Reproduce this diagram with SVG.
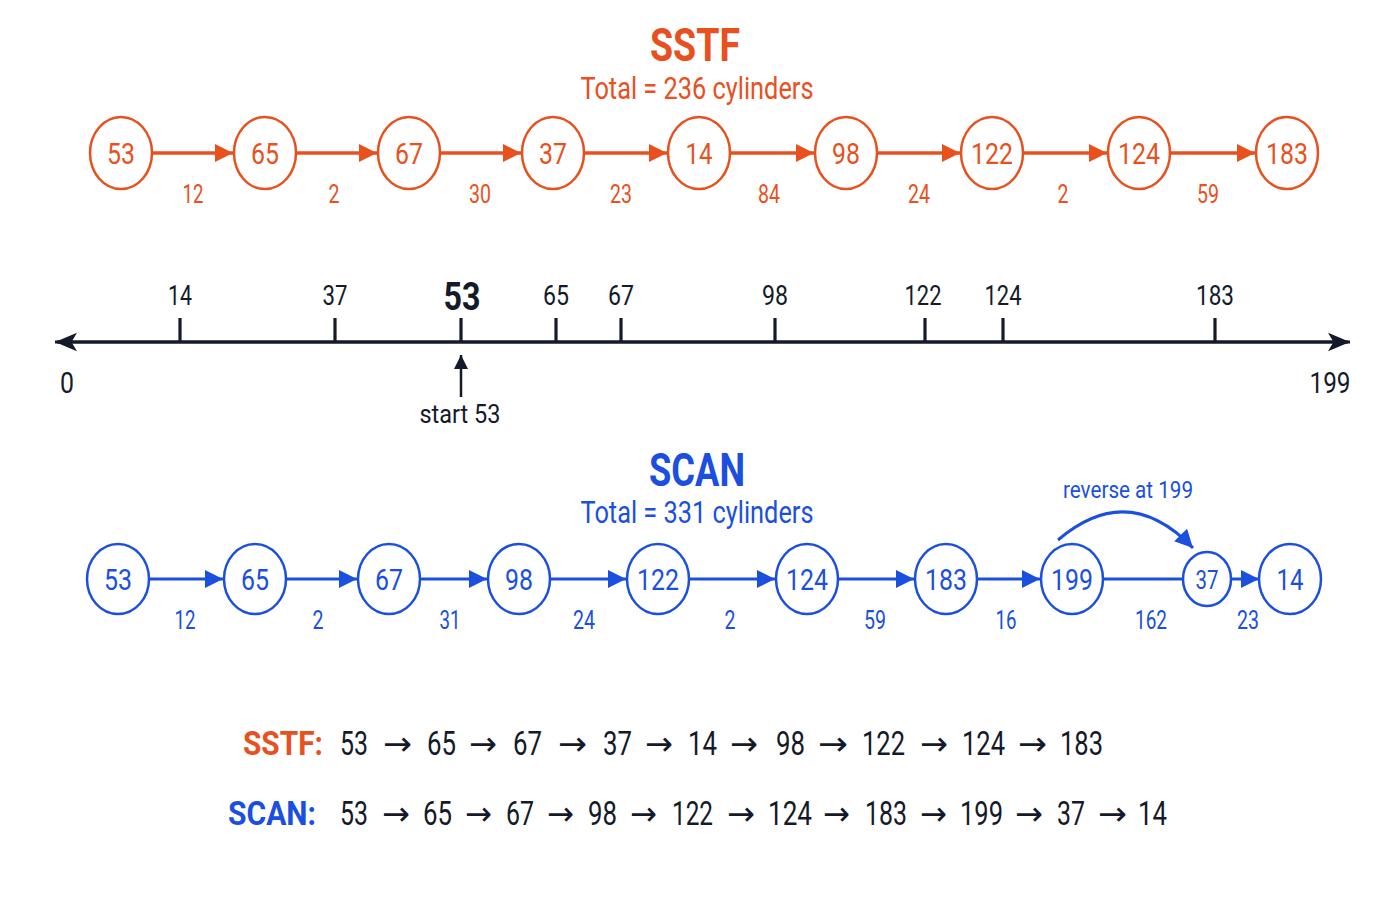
<svg xmlns="http://www.w3.org/2000/svg" width="1400" height="900" viewBox="0 0 1400 900">
<defs>
<style>
text{font-family:"Roboto","Liberation Sans",sans-serif;text-anchor:middle}
.o{fill:#E8501E}.b{fill:#1A4FE0}.k{fill:#141A2A}
.on{fill:#fff;stroke:#E8501E;stroke-width:2.5}
.bn{fill:#fff;stroke:#1A4FE0;stroke-width:2.5}
.nt{font-size:30px}
.el{font-size:25px}
.ol{stroke:#E8501E;stroke-width:3.5;fill:none}
.bl{stroke:#1A4FE0;stroke-width:3;fill:none}
.ax{stroke:#141A2A;stroke-width:3.2;fill:none}
.tk{font-size:28px}
.title{font-size:46px;font-weight:bold}
.sub{font-size:31px}
.sum{font-size:34px}
.sn{font-size:33px;fill:#141A2A;text-anchor:start}
.sa{font-family:"DejaVu Sans",sans-serif;font-size:33px;fill:#141A2A;text-anchor:start}
</style>
<marker id="ao2" viewBox="0 0 10 10" refX="10" refY="5" markerWidth="18" markerHeight="19" markerUnits="userSpaceOnUse" orient="auto"><path d="M0,0 L10,5 L0,10 z" fill="#E8501E"/></marker>
<marker id="ab2" viewBox="0 0 10 10" refX="10" refY="5" markerWidth="18" markerHeight="19" markerUnits="userSpaceOnUse" orient="auto"><path d="M0,0 L10,5 L0,10 z" fill="#1A4FE0"/></marker>
<marker id="ak" viewBox="0 0 12 10" refX="12" refY="5" markerWidth="22" markerHeight="22" markerUnits="userSpaceOnUse" orient="auto"><path d="M0,0 L12,5 L0,10 L3,5 z" fill="#141A2A"/></marker>
<marker id="ak2" viewBox="0 0 10 10" refX="10" refY="5" markerWidth="14" markerHeight="14" markerUnits="userSpaceOnUse" orient="auto"><path d="M0,0 L10,5 L0,10 z" fill="#141A2A"/></marker>
</defs>
<rect width="1400" height="900" fill="#fff"/>

<g id="sstf-title">
<text x="695" y="61" class="title o" textLength="90" lengthAdjust="spacingAndGlyphs">SSTF</text>
<text x="697" y="99" class="sub o" textLength="233" lengthAdjust="spacingAndGlyphs">Total = 236 cylinders</text>
</g>

<g id="connectors">
<g id="sstf-edges">
<line x1="152" y1="153" x2="233" y2="153" class="ol" marker-end="url(#ao2)"/>
<line x1="296" y1="153" x2="377" y2="153" class="ol" marker-end="url(#ao2)"/>
<line x1="440" y1="153" x2="521" y2="153" class="ol" marker-end="url(#ao2)"/>
<line x1="584" y1="153" x2="667" y2="153" class="ol" marker-end="url(#ao2)"/>
<line x1="730" y1="153" x2="814" y2="153" class="ol" marker-end="url(#ao2)"/>
<line x1="877" y1="153" x2="960" y2="153" class="ol" marker-end="url(#ao2)"/>
<line x1="1023" y1="153" x2="1107" y2="153" class="ol" marker-end="url(#ao2)"/>
<line x1="1170" y1="153" x2="1255" y2="153" class="ol" marker-end="url(#ao2)"/>
</g>
<g id="scan-edges">
<line x1="149" y1="579" x2="223" y2="579" class="bl" marker-end="url(#ab2)"/>
<line x1="286" y1="579" x2="357" y2="579" class="bl" marker-end="url(#ab2)"/>
<line x1="420" y1="579" x2="487" y2="579" class="bl" marker-end="url(#ab2)"/>
<line x1="550" y1="579" x2="626" y2="579" class="bl" marker-end="url(#ab2)"/>
<line x1="689" y1="579" x2="775" y2="579" class="bl" marker-end="url(#ab2)"/>
<line x1="838" y1="579" x2="914" y2="579" class="bl" marker-end="url(#ab2)"/>
<line x1="977" y1="579" x2="1040" y2="579" class="bl" marker-end="url(#ab2)"/>
<line x1="1103" y1="579" x2="1183" y2="579" class="bl"/>
<line x1="1231" y1="579" x2="1259" y2="579" class="bl" marker-end="url(#ab2)"/>
<path d="M1058,540 Q1128,480 1193,548" class="bl" marker-end="url(#ab2)"/>
</g>
</g>

<g id="sstf-labels">
<text x="193" y="203" class="el o" textLength="21" lengthAdjust="spacingAndGlyphs">12</text>
<text x="334" y="203" class="el o" textLength="11" lengthAdjust="spacingAndGlyphs">2</text>
<text x="480" y="203" class="el o" textLength="22" lengthAdjust="spacingAndGlyphs">30</text>
<text x="621" y="203" class="el o" textLength="22" lengthAdjust="spacingAndGlyphs">23</text>
<text x="769" y="203" class="el o" textLength="22" lengthAdjust="spacingAndGlyphs">84</text>
<text x="919" y="203" class="el o" textLength="22" lengthAdjust="spacingAndGlyphs">24</text>
<text x="1063" y="203" class="el o" textLength="11" lengthAdjust="spacingAndGlyphs">2</text>
<text x="1208" y="203" class="el o" textLength="22" lengthAdjust="spacingAndGlyphs">59</text>
</g>

<g id="sstf-n53"><ellipse cx="121" cy="153" rx="31" ry="36" class="on"/><text x="121" y="164" class="nt o" textLength="28" lengthAdjust="spacingAndGlyphs">53</text></g>
<g id="sstf-n65"><ellipse cx="265" cy="153" rx="31" ry="36" class="on"/><text x="265" y="164" class="nt o" textLength="28" lengthAdjust="spacingAndGlyphs">65</text></g>
<g id="sstf-n67"><ellipse cx="409" cy="153" rx="31" ry="36" class="on"/><text x="409" y="164" class="nt o" textLength="28" lengthAdjust="spacingAndGlyphs">67</text></g>
<g id="sstf-n37"><ellipse cx="553" cy="153" rx="31" ry="36" class="on"/><text x="553" y="164" class="nt o" textLength="28" lengthAdjust="spacingAndGlyphs">37</text></g>
<g id="sstf-n14"><ellipse cx="699" cy="153" rx="31" ry="36" class="on"/><text x="699" y="164" class="nt o" textLength="27" lengthAdjust="spacingAndGlyphs">14</text></g>
<g id="sstf-n98"><ellipse cx="846" cy="153" rx="31" ry="36" class="on"/><text x="846" y="164" class="nt o" textLength="28" lengthAdjust="spacingAndGlyphs">98</text></g>
<g id="sstf-n122"><ellipse cx="992" cy="153" rx="31" ry="36" class="on"/><text x="992" y="164" class="nt o" textLength="42" lengthAdjust="spacingAndGlyphs">122</text></g>
<g id="sstf-n124"><ellipse cx="1139" cy="153" rx="31" ry="36" class="on"/><text x="1139" y="164" class="nt o" textLength="42" lengthAdjust="spacingAndGlyphs">124</text></g>
<g id="sstf-n183"><ellipse cx="1287" cy="153" rx="31" ry="36" class="on"/><text x="1287" y="164" class="nt o" textLength="42" lengthAdjust="spacingAndGlyphs">183</text></g>

<g id="axis">
<line x1="1348" y1="342" x2="55" y2="342" class="ax" marker-end="url(#ak)"/>
<line x1="57" y1="342" x2="1350" y2="342" class="ax" marker-end="url(#ak)"/>
<g class="ax">
<line x1="180" y1="318" x2="180" y2="342"/>
<line x1="335" y1="318" x2="335" y2="342"/>
<line x1="461" y1="318" x2="461" y2="342"/>
<line x1="556" y1="318" x2="556" y2="342"/>
<line x1="621" y1="318" x2="621" y2="342"/>
<line x1="775" y1="318" x2="775" y2="342"/>
<line x1="925" y1="318" x2="925" y2="342"/>
<line x1="1003" y1="318" x2="1003" y2="342"/>
<line x1="1215" y1="318" x2="1215" y2="342"/>
</g>
<text x="180" y="305" class="tk k" textLength="24" lengthAdjust="spacingAndGlyphs">14</text>
<text x="335" y="305" class="tk k" textLength="25" lengthAdjust="spacingAndGlyphs">37</text>
<text x="462" y="310" class="k" style="font-size:38px;font-weight:bold" textLength="37" lengthAdjust="spacingAndGlyphs">53</text>
<text x="556" y="305" class="tk k" textLength="26" lengthAdjust="spacingAndGlyphs">65</text>
<text x="621" y="305" class="tk k" textLength="26" lengthAdjust="spacingAndGlyphs">67</text>
<text x="775" y="305" class="tk k" textLength="26" lengthAdjust="spacingAndGlyphs">98</text>
<text x="923" y="305" class="tk k" textLength="37" lengthAdjust="spacingAndGlyphs">122</text>
<text x="1003" y="305" class="tk k" textLength="37" lengthAdjust="spacingAndGlyphs">124</text>
<text x="1215" y="305" class="tk k" textLength="38" lengthAdjust="spacingAndGlyphs">183</text>
<text x="67" y="393" class="k" style="font-size:30px" textLength="14" lengthAdjust="spacingAndGlyphs">0</text>
<text x="1330" y="393" class="k" style="font-size:30px" textLength="41" lengthAdjust="spacingAndGlyphs">199</text>
<line x1="461" y1="397" x2="461" y2="355" stroke="#141A2A" stroke-width="2.5" marker-end="url(#ak2)"/>
<text x="460" y="423" class="k" style="font-size:26px" textLength="81" lengthAdjust="spacingAndGlyphs">start 53</text>
</g>

<g id="scan-title">
<text x="697" y="486" class="title b" textLength="96" lengthAdjust="spacingAndGlyphs">SCAN</text>
<text x="697" y="523" class="sub b" textLength="233" lengthAdjust="spacingAndGlyphs">Total = 331 cylinders</text>
<text x="1128" y="498" class="b" style="font-size:23px" textLength="130" lengthAdjust="spacingAndGlyphs">reverse at 199</text>
</g>

<g id="scan-labels">
<text x="185" y="629" class="el b" textLength="21" lengthAdjust="spacingAndGlyphs">12</text>
<text x="318" y="629" class="el b" textLength="11" lengthAdjust="spacingAndGlyphs">2</text>
<text x="450" y="629" class="el b" textLength="21" lengthAdjust="spacingAndGlyphs">31</text>
<text x="584" y="629" class="el b" textLength="22" lengthAdjust="spacingAndGlyphs">24</text>
<text x="730" y="629" class="el b" textLength="11" lengthAdjust="spacingAndGlyphs">2</text>
<text x="875" y="629" class="el b" textLength="22" lengthAdjust="spacingAndGlyphs">59</text>
<text x="1006" y="629" class="el b" textLength="21" lengthAdjust="spacingAndGlyphs">16</text>
<text x="1151" y="629" class="el b" textLength="32" lengthAdjust="spacingAndGlyphs">162</text>
<text x="1248" y="629" class="el b" textLength="22" lengthAdjust="spacingAndGlyphs">23</text>
</g>

<g id="scan-n53"><ellipse cx="118" cy="579" rx="31" ry="35" class="bn"/><text x="118" y="590" class="nt b" textLength="28" lengthAdjust="spacingAndGlyphs">53</text></g>
<g id="scan-n65"><ellipse cx="255" cy="579" rx="31" ry="35" class="bn"/><text x="255" y="590" class="nt b" textLength="28" lengthAdjust="spacingAndGlyphs">65</text></g>
<g id="scan-n67"><ellipse cx="389" cy="579" rx="31" ry="35" class="bn"/><text x="389" y="590" class="nt b" textLength="28" lengthAdjust="spacingAndGlyphs">67</text></g>
<g id="scan-n98"><ellipse cx="519" cy="579" rx="31" ry="35" class="bn"/><text x="519" y="590" class="nt b" textLength="28" lengthAdjust="spacingAndGlyphs">98</text></g>
<g id="scan-n122"><ellipse cx="658" cy="579" rx="31" ry="35" class="bn"/><text x="658" y="590" class="nt b" textLength="42" lengthAdjust="spacingAndGlyphs">122</text></g>
<g id="scan-n124"><ellipse cx="807" cy="579" rx="31" ry="35" class="bn"/><text x="807" y="590" class="nt b" textLength="42" lengthAdjust="spacingAndGlyphs">124</text></g>
<g id="scan-n183"><ellipse cx="946" cy="579" rx="31" ry="35" class="bn"/><text x="946" y="590" class="nt b" textLength="42" lengthAdjust="spacingAndGlyphs">183</text></g>
<g id="scan-n199"><ellipse cx="1072" cy="579" rx="31" ry="35" class="bn"/><text x="1072" y="590" class="nt b" textLength="42" lengthAdjust="spacingAndGlyphs">199</text></g>
<g id="scan-n37"><ellipse cx="1207" cy="579" rx="24" ry="27" class="bn"/><text x="1207" y="589" class="b" style="font-size:26px" textLength="23" lengthAdjust="spacingAndGlyphs">37</text></g>
<g id="scan-n14"><ellipse cx="1290" cy="579" rx="31" ry="35" class="bn"/><text x="1290" y="590" class="nt b" textLength="27" lengthAdjust="spacingAndGlyphs">14</text></g>

<g id="summary">
<text x="243" y="755" class="sum o" style="text-anchor:start;font-weight:bold" textLength="80" lengthAdjust="spacingAndGlyphs">SSTF:</text>
<g id="sstf-seq">
<text x="340" y="755" class="sn" textLength="28" lengthAdjust="spacingAndGlyphs">53</text>
<text x="383" y="755" class="sa" textLength="29" lengthAdjust="spacingAndGlyphs">→</text>
<text x="427" y="755" class="sn" textLength="29" lengthAdjust="spacingAndGlyphs">65</text>
<text x="469" y="755" class="sa" textLength="28" lengthAdjust="spacingAndGlyphs">→</text>
<text x="513" y="755" class="sn" textLength="29" lengthAdjust="spacingAndGlyphs">67</text>
<text x="558" y="755" class="sa" textLength="29" lengthAdjust="spacingAndGlyphs">→</text>
<text x="603" y="755" class="sn" textLength="29" lengthAdjust="spacingAndGlyphs">37</text>
<text x="645" y="755" class="sa" textLength="28" lengthAdjust="spacingAndGlyphs">→</text>
<text x="688" y="755" class="sn" textLength="29" lengthAdjust="spacingAndGlyphs">14</text>
<text x="730" y="755" class="sa" textLength="28" lengthAdjust="spacingAndGlyphs">→</text>
<text x="776" y="755" class="sn" textLength="29" lengthAdjust="spacingAndGlyphs">98</text>
<text x="818" y="755" class="sa" textLength="30" lengthAdjust="spacingAndGlyphs">→</text>
<text x="862" y="755" class="sn" textLength="43" lengthAdjust="spacingAndGlyphs">122</text>
<text x="920" y="755" class="sa" textLength="28" lengthAdjust="spacingAndGlyphs">→</text>
<text x="962" y="755" class="sn" textLength="43" lengthAdjust="spacingAndGlyphs">124</text>
<text x="1018" y="755" class="sa" textLength="29" lengthAdjust="spacingAndGlyphs">→</text>
<text x="1060" y="755" class="sn" textLength="43" lengthAdjust="spacingAndGlyphs">183</text>
</g>
<text x="228" y="825" class="sum b" style="text-anchor:start;font-weight:bold" textLength="88" lengthAdjust="spacingAndGlyphs">SCAN:</text>
<g id="scan-seq">
<text x="340" y="825" class="sn" textLength="28" lengthAdjust="spacingAndGlyphs">53</text>
<text x="382" y="825" class="sa" textLength="28" lengthAdjust="spacingAndGlyphs">→</text>
<text x="423" y="825" class="sn" textLength="29" lengthAdjust="spacingAndGlyphs">65</text>
<text x="465" y="825" class="sa" textLength="27" lengthAdjust="spacingAndGlyphs">→</text>
<text x="506" y="825" class="sn" textLength="28" lengthAdjust="spacingAndGlyphs">67</text>
<text x="547" y="825" class="sa" textLength="27" lengthAdjust="spacingAndGlyphs">→</text>
<text x="588" y="825" class="sn" textLength="29" lengthAdjust="spacingAndGlyphs">98</text>
<text x="630" y="825" class="sa" textLength="27" lengthAdjust="spacingAndGlyphs">→</text>
<text x="672" y="825" class="sn" textLength="41" lengthAdjust="spacingAndGlyphs">122</text>
<text x="727" y="825" class="sa" textLength="28" lengthAdjust="spacingAndGlyphs">→</text>
<text x="768" y="825" class="sn" textLength="44" lengthAdjust="spacingAndGlyphs">124</text>
<text x="823" y="825" class="sa" textLength="27" lengthAdjust="spacingAndGlyphs">→</text>
<text x="865" y="825" class="sn" textLength="42" lengthAdjust="spacingAndGlyphs">183</text>
<text x="920" y="825" class="sa" textLength="27" lengthAdjust="spacingAndGlyphs">→</text>
<text x="960" y="825" class="sn" textLength="43" lengthAdjust="spacingAndGlyphs">199</text>
<text x="1015" y="825" class="sa" textLength="28" lengthAdjust="spacingAndGlyphs">→</text>
<text x="1057" y="825" class="sn" textLength="28" lengthAdjust="spacingAndGlyphs">37</text>
<text x="1098" y="825" class="sa" textLength="29" lengthAdjust="spacingAndGlyphs">→</text>
<text x="1138" y="825" class="sn" textLength="29" lengthAdjust="spacingAndGlyphs">14</text>
</g>
</g>
</svg>
